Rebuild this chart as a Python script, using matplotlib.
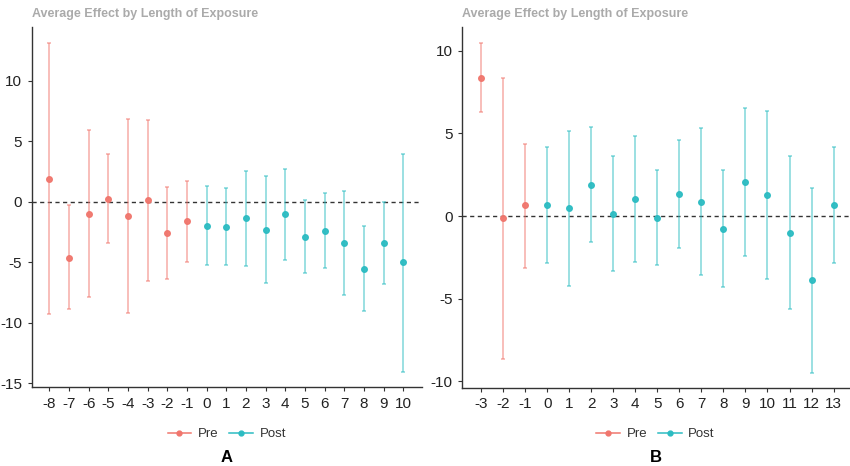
import matplotlib
matplotlib.use("Agg")
import matplotlib.pyplot as plt
from matplotlib.lines import Line2D

plt.rcParams['font.family'] = ['Liberation Sans', 'DejaVu Sans']

# Panel A data
a_period = list(range(-8, 11))
a_est = [1.88, -4.63, -0.99, 0.25, -1.18, 0.14, -2.61, -1.62, -2.01, -2.09,
         -1.38, -2.34, -1.04, -2.92, -2.42, -3.39, -5.53, -3.44, -5.01]
a_lo = [-9.3, -8.9, -7.85, -3.44, -9.17, -6.55, -6.42, -5.01, -5.26, -5.26,
        -5.31, -6.75, -4.82, -5.92, -5.48, -7.69, -9.03, -6.83, -14.05]
a_hi = [13.1, -0.27, 5.93, 3.97, 6.83, 6.75, 1.24, 1.71, 1.32, 1.1,
        2.54, 2.12, 2.68, 0.14, 0.69, 0.91, -2.01, 0.0, 3.97]

# Panel B data
b_period = list(range(-3, 14))
b_est = [8.38, -0.14, 0.65, 0.65, 0.47, 1.9, 0.12, 1.03, -0.1, 1.33,
         0.85, -0.79, 2.04, 1.27, -1.01, -3.88, 0.65]
b_lo = [6.28, -8.69, -3.13, -2.87, -4.22, -1.6, -3.35, -2.79, -2.97, -1.92,
        -3.6, -4.32, -2.4, -3.8, -5.66, -9.48, -2.87]
b_hi = [10.48, 8.38, 4.38, 4.2, 5.15, 5.39, 3.64, 4.83, 2.81, 4.63,
        5.31, 2.81, 6.53, 6.39, 3.64, 1.72, 4.2]

pre_col = '#F0766D'
post_col = '#2CBCC2'
title = 'Average Effect by Length of Exposure'

fig = plt.figure(figsize=(8.5, 4.66), dpi=100)
W, H = 850, 466


def panel(box, period, est, lo, hi, xlim, ylim, yticks, letter):
    l, r, t, b = box
    ax = fig.add_axes([l / W, 1 - b / H, (r - l) / W, (b - t) / H])
    for p, e, y0, y1 in zip(period, est, lo, hi):
        c = pre_col if p < 0 else post_col
        ax.errorbar(p, e, yerr=[[e - y0], [y1 - e]], fmt='none', ecolor=c,
                    alpha=0.6, elinewidth=1.1, capsize=1.5, capthick=1.1)
        ax.plot(p, e, 'o', color=c, ms=4, alpha=0.95, zorder=3)
    ax.axhline(0, color='#333333', ls=(0, (3, 2.5)), lw=1, zorder=1)
    ax.set_xlim(*xlim)
    ax.set_ylim(*ylim)
    ax.set_xticks(period)
    ax.set_xticklabels([str(p) for p in period])
    ax.set_yticks(yticks)
    ax.set_yticklabels([str(v) for v in yticks])
    for s in ['top', 'right']:
        ax.spines[s].set_visible(False)
    for s in ['left', 'bottom']:
        ax.spines[s].set_color('#333333')
        ax.spines[s].set_linewidth(1.0)
    ax.tick_params(length=3, width=0.8, color='#333333', labelsize=11,
                   labelcolor='#222222', pad=4)
    fig.text(l / W, 1 - 14 / H, title, fontsize=9, fontweight='bold',
             color='#AAAAAA', ha='left', va='center')
    handles = [Line2D([], [], color=pre_col, marker='o', ms=3.5, lw=1.1),
               Line2D([], [], color=post_col, marker='o', ms=3.5, lw=1.1)]
    ax.legend(handles, ['Pre', 'Post'], loc='center',
              bbox_to_anchor=(0.5, (b - 434) / (b - t)), ncol=2, frameon=False,
              handlelength=1.8, handletextpad=0.5, columnspacing=0.8,
              fontsize=9.5, labelcolor='#333333')
    fig.text((l + r) / 2 / W, 1 - 457 / H, letter, fontsize=12,
             fontweight='bold', ha='center', va='center')
    return ax


panel((31.7, 421.7, 26.7, 387), a_period, a_est, a_lo, a_hi,
      (-8.9, 10.94), (-15.31, 14.46), [-15, -10, -5, 0, 5, 10], 'A')
panel((462.3, 849, 26.7, 387.7), b_period, b_est, b_lo, b_hi,
      (-3.85, 13.7), (-10.4, 11.47), [-10, -5, 0, 5, 10], 'B')

fig.savefig('out.png', dpi=100)
